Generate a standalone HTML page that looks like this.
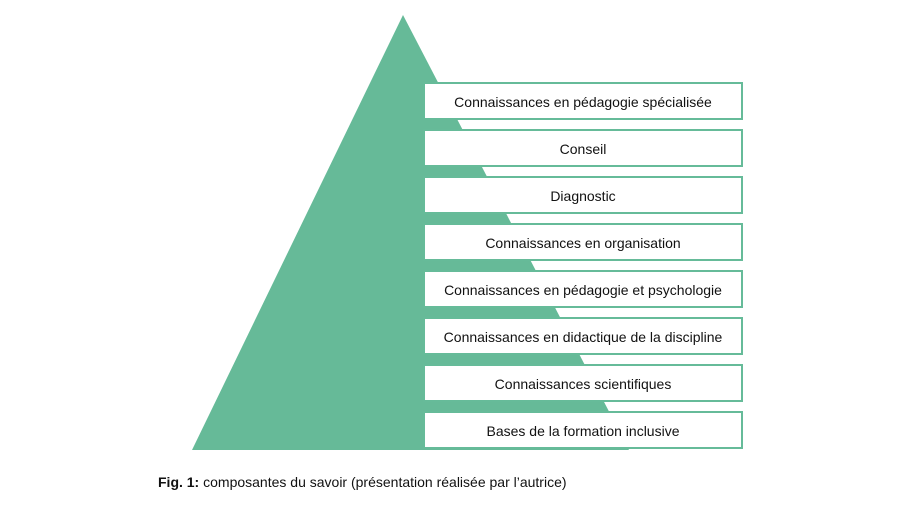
<!DOCTYPE html>
<html><head><meta charset="utf-8"><style>
body{margin:0;width:901px;height:510px;background:#fff;position:relative;overflow:hidden;font-family:"Liberation Sans",sans-serif;}
.b{position:absolute;left:423px;width:316px;height:34px;border:2px solid #66bb99;background:#fff;color:#111;font-size:14px;line-height:36px;text-align:center;}
.cap{position:absolute;left:158px;top:474px;font-size:14px;color:#111;}
</style></head><body>
<svg width="901" height="510" style="position:absolute;left:0;top:0">
<polygon points="403,15 192,450 629,450" fill="#66ba98"/>
</svg>
<div class="b" style="top:82px">Connaissances en pédagogie spécialisée</div>
<div class="b" style="top:129px">Conseil</div>
<div class="b" style="top:176px">Diagnostic</div>
<div class="b" style="top:223px">Connaissances en organisation</div>
<div class="b" style="top:270px">Connaissances en pédagogie et psychologie</div>
<div class="b" style="top:317px">Connaissances en didactique de la discipline</div>
<div class="b" style="top:364px">Connaissances scientifiques</div>
<div class="b" style="top:411px">Bases de la formation inclusive</div>
<div class="cap"><b>Fig. 1:</b> composantes du savoir (présentation réalisée par l’autrice)</div>
</body></html>
